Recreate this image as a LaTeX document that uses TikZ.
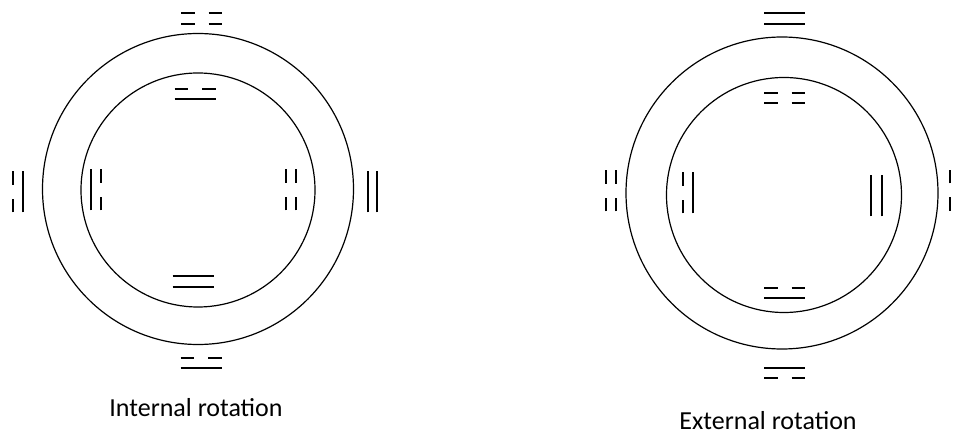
\documentclass[tikz,border=0pt]{standalone}
\usepackage{fontspec}
\setmainfont{Carlito}
\usetikzlibrary{positioning}

% one solid (yang) or broken (yin) stroke of a bigram
\tikzset{
  yang/.pic={\draw[bar] (-20.5,0) -- (20.5,0);},
  yin/.pic={\draw[bar] (-20.5,0) -- (-7,0) (7,0) -- (20.5,0);},
}

\begin{document}
\begin{tikzpicture}[
  x=1pt,y=-1pt,
  ring/.style={circle,draw,line width=1.2pt,inner sep=0pt,minimum size=#1},
  bar/.style={line width=2.6pt},
  caption/.style={font=\fontsize{26}{30}\selectfont,inner sep=1pt},
]
  \useasboundingbox (0,0) rectangle (959,435);

  % Internal rotation
  \node[ring=311pt] (outerL) at (198,189) {};
  \node[ring=234pt] (innerL) at (198,190) {};

  \pic at (201.5,13) {yin};  \pic at (201.5,24) {yin};
  \pic at (195,89) {yin};    \pic at (195,99) {yang};
  \pic at (193,276) {yang};  \pic at (193,287) {yang};
  \pic at (201,358) {yin};   \pic at (201,368) {yang};
  \pic[rotate=90] at (13,192) {yin};   \pic[rotate=90] at (23,192) {yang};
  \pic[rotate=90] at (91,190) {yang};  \pic[rotate=90] at (101,190) {yin};
  \pic[rotate=90] at (286,190) {yin};  \pic[rotate=90] at (296,190) {yin};
  \pic[rotate=90] at (368,192) {yang}; \pic[rotate=90] at (377,192) {yang};

  \node[caption] (capL) at (196,408) {Internal rotation};

  % External rotation
  \node[ring=312pt] (outerR) at (782,193) {};
  \node[ring=235pt] (innerR) at (784,195) {};

  \pic at (784.5,13) {yang};  \pic at (784.5,24) {yang};
  \pic at (784.5,93) {yin};   \pic at (784.5,103) {yin};
  \pic at (784.5,288) {yin};  \pic at (784.5,298) {yang};
  \pic at (784.5,368) {yang}; \pic at (784.5,378) {yin};
  \pic[rotate=90] at (606,191) {yin};  \pic[rotate=90] at (616,191) {yin};
  \pic[rotate=90] at (683,193) {yin};  \pic[rotate=90] at (693,193) {yang};
  \pic[rotate=90] at (871,196) {yang}; \pic[rotate=90] at (882,196) {yang};
  \pic[rotate=90] at (950,190.5) {yin};

  \node[caption] (capR) at (768,421) {External rotation};
\end{tikzpicture}
\end{document}
